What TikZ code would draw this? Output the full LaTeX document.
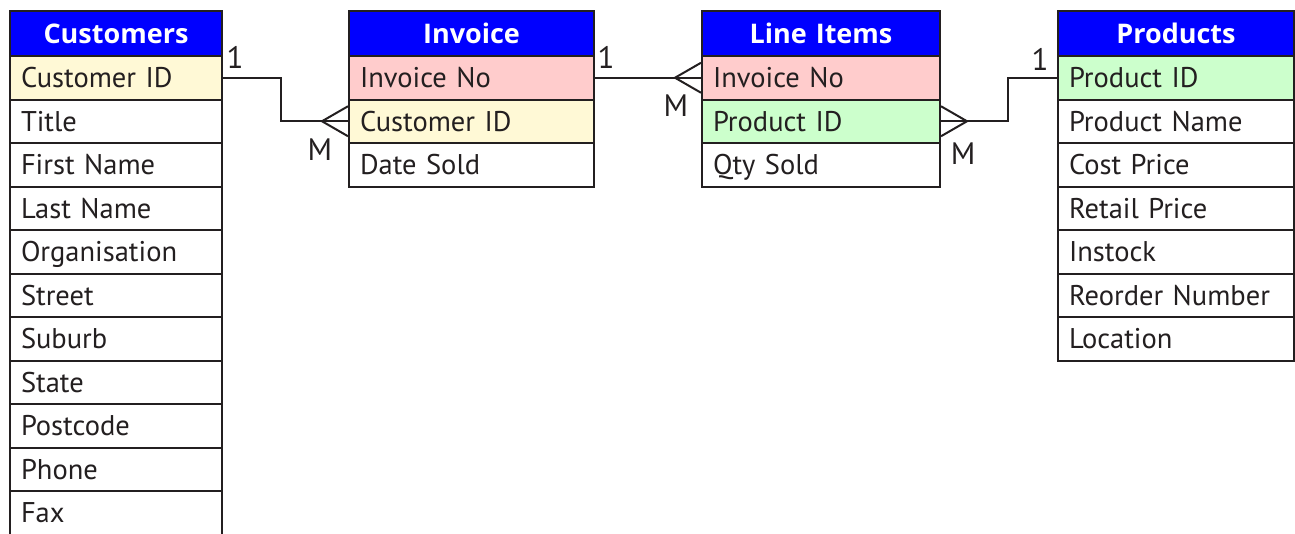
\documentclass[tikz,border=0pt]{standalone}
\usepackage{fontspec}
\setmainfont{PT Sans}
\newfontfamily\hdrfont{Open Sans}
\usetikzlibrary{calc}
\definecolor{hdr}{RGB}{0,0,255}
\definecolor{pk}{RGB}{255,204,204}
\definecolor{yl}{RGB}{255,249,214}
\definecolor{gr}{RGB}{204,255,204}
\definecolor{ln}{RGB}{35,31,32}
\tikzset{
 cell/.style={draw=ln, line width=2pt, anchor=north west, minimum height=43.5pt, inner xsep=11pt, inner ysep=0pt, font=\fontsize{28.5}{28.5}\selectfont, text=ln, align=left, text height=23pt, text depth=3pt},
 hcell/.style={cell, fill=hdr, text=white, font=\hdrfont\bfseries\fontsize{27}{27}\selectfont, minimum height=45pt, align=center},
 link/.style={draw=ln, line width=2pt},
 card/.style={font=\fontsize{31}{31}\selectfont, text=ln}
}
\newcommand\erdtab[5]{%
 \node[hcell, text width=#3] (#1-0) at (#2,-10pt) {#4};
 \foreach[count=\i, evaluate=\i as \yy using -55-43.5*(\i-1)] \t/\c in {#5} {
   \node[cell, fill=\c, text width=#3] (#1-\i) at (#2,\yy pt) {\t};
 }
}
\newcommand\crowL[1]{\draw[link] ($(#1)+(0,15pt)$) -- ($(#1)+(-26pt,0)$) -- ($(#1)+(0,-15pt)$);}
\newcommand\crowR[1]{\draw[link] ($(#1)+(0,15pt)$) -- ($(#1)+(26pt,0)$) -- ($(#1)+(0,-15pt)$);}
\begin{document}
\begin{tikzpicture}
\useasboundingbox (0,0) rectangle (1295pt,-533pt);
\clip (0,0) rectangle (1295pt,-533pt);
\erdtab{cust}{9pt}{190pt}{Customers}{Customer ID/yl,Title/white,First Name/white,Last Name/white,Organisation/white,Street/white,Suburb/white,State/white,Postcode/white,Phone/white,Fax/white}
\erdtab{inv}{348pt}{223pt}{Invoice}{Invoice No/pk,Customer ID/yl,Date Sold/white}
\erdtab{li}{701pt}{216pt}{Line Items}{Invoice No/pk,Product ID/gr,Qty Sold/white}
\erdtab{prod}{1057pt}{214pt}{Products}{Product ID/gr,Product Name/white,Cost Price/white,Retail Price/white,Instock/white,Reorder Number/white,Location/white}
% connectors
\draw[link] (cust-1.east) -- ++(58pt,0) |- (inv-2.west);
\crowL{inv-2.west}
\draw[link] (inv-1.east) -- (li-1.west);
\crowL{li-1.west}
\draw[link] (prod-1.west) -- ++(-49pt,0) |- (li-2.east);
\crowR{li-2.east}
% cardinalities
\node[card] (k1) at (235pt,-57pt) {1};
\node[card] (k2) at (320pt,-150pt) {M};
\node[card] (k3) at (606pt,-57pt) {1};
\node[card] (k4) at (676pt,-106pt) {M};
\node[card] (k5) at (1040pt,-59pt) {1};
\node[card] (k6) at (963pt,-154pt) {M};
\end{tikzpicture}
\end{document}
